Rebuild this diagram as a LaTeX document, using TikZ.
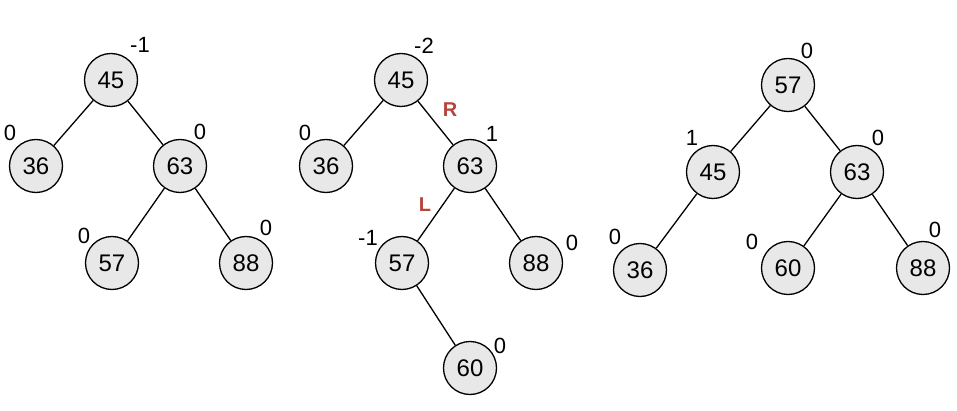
\documentclass[tikz,border=0pt]{standalone}
\usepackage{fontspec}
\setmainfont{Liberation Sans}
\definecolor{nodefill}{HTML}{E8E8E8}
\definecolor{rotred}{HTML}{B5443C}
\begin{document}
\begin{tikzpicture}[x=1pt,y=-1pt,
  avl/.style={circle,draw=black,line width=1.3pt,fill=nodefill,minimum size=53pt,inner sep=0pt,font=\fontsize{24}{28}\selectfont},
  bal/.style={font=\fontsize{22}{26}\selectfont,inner sep=0pt},
  rot/.style={font=\fontsize{20}{24}\selectfont\bfseries,text=rotred,inner sep=0pt},
  edge/.style={line width=1.3pt}]
\useasboundingbox (0,0) rectangle (957,411);
% Tree 1
\node[avl] (a45) at (111,80) {45};
\node[avl] (a36) at (36,166) {36};
\node[avl] (a63) at (180,166) {63};
\node[avl] (a57) at (112,263) {57};
\node[avl] (a88) at (246,263) {88};
\draw[edge] (a45) -- (a36);
\draw[edge] (a45) -- (a63);
\draw[edge] (a63) -- (a57);
\draw[edge] (a63) -- (a88);
\node[bal] (ba45) at (140,45) {-1};
\node[bal] (ba36) at (10,133) {0};
\node[bal] (ba63) at (200,132) {0};
\node[bal] (ba57) at (84,236) {0};
\node[bal] (ba88) at (266,228) {0};
% Tree 2
\node[avl] (b45) at (401,80) {45};
\node[avl] (b36) at (326,166) {36};
\node[avl] (b63) at (470,166) {63};
\node[avl] (b57) at (402,263) {57};
\node[avl] (b88) at (536,263) {88};
\node[avl] (b60) at (470,368) {60};
\draw[edge] (b45) -- (b36);
\draw[edge] (b45) -- (b63);
\draw[edge] (b63) -- (b57);
\draw[edge] (b63) -- (b88);
\draw[edge] (b57) -- (b60);
\node[bal] (bb45) at (424,46) {-2};
\node[bal] (bb36) at (305,133) {0};
\node[bal] (bb63) at (492,134) {1};
\node[bal] (bb57) at (368,238) {-1};
\node[bal] (bb88) at (572,243) {0};
\node[bal] (bb60) at (500,346) {0};
\node[rot] (rR) at (450,110) {R};
\node[rot] (rL) at (425,205) {L};
% Tree 3
\node[avl] (c57) at (788,85) {57};
\node[avl] (c45) at (713,172) {45};
\node[avl] (c63) at (857,172) {63};
\node[avl] (c36) at (640,270) {36};
\node[avl] (c60) at (788,268) {60};
\node[avl] (c88) at (923,268) {88};
\draw[edge] (c57) -- (c45);
\draw[edge] (c57) -- (c63);
\draw[edge] (c45) -- (c36);
\draw[edge] (c63) -- (c60);
\draw[edge] (c63) -- (c88);
\node[bal] (cb57) at (807,51) {0};
\node[bal] (cb45) at (692,138) {1};
\node[bal] (cb63) at (878,138) {0};
\node[bal] (cb36) at (615,237) {0};
\node[bal] (cb60) at (752,242) {0};
\node[bal] (cb88) at (935,230) {0};
\end{tikzpicture}
\end{document}
